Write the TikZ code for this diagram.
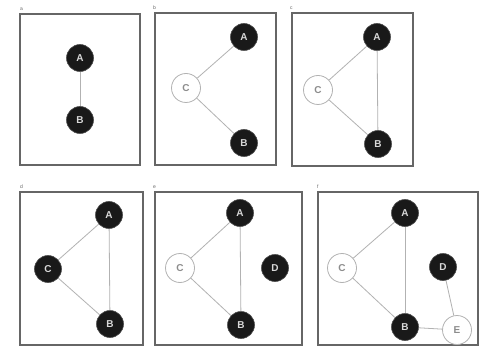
\documentclass[tikz,border=0pt]{standalone}
\usepackage{fontspec}
\setmainfont{Liberation Sans}
\begin{document}
\begin{tikzpicture}[x=1pt,y=-1pt,
  panel/.style={draw=black!60,line width=1.2pt},
  blk/.style={circle,fill=black!90,draw=black!70,line width=0.6pt,minimum size=27pt,inner sep=0pt,text=white!85!black,font=\fontsize{10}{10}\selectfont\bfseries},
  wht/.style={circle,fill=white,draw=black!30,line width=0.8pt,minimum size=29pt,inner sep=0pt,text=black!45,font=\fontsize{10}{10}\selectfont\bfseries},
  edge/.style={draw=black!30,line width=0.8pt},
  tag/.style={font=\fontsize{5}{5}\selectfont,text=black!60,inner sep=0pt,anchor=south west}]
\useasboundingbox (0,0) rectangle (481,347);
\fill[white] (0,0) rectangle (481,347);
% panel a
\draw[panel] (20,14) rectangle (140,165);
\node[tag] (la) at (20,11) {a};
\node[blk] (aA) at (80,58) {A};
\node[blk] (aB) at (80,120) {B};
\draw[edge] (aA) -- (aB);
% panel b
\draw[panel] (155,13) rectangle (276,165);
\node[tag] (lb) at (153,10) {b};
\node[blk] (bA) at (244,37) {A};
\node[wht] (bC) at (186,88) {C};
\node[blk] (bB) at (244,143) {B};
\draw[edge] (bC) -- (bA);
\draw[edge] (bC) -- (bB);
% panel c
\draw[panel] (292,13) rectangle (413,166);
\node[tag] (lc) at (290,10) {c};
\node[blk] (cA) at (377,37) {A};
\node[wht] (cC) at (318,90) {C};
\node[blk] (cB) at (378,144) {B};
\draw[edge] (cC) -- (cA);
\draw[edge] (cC) -- (cB);
\draw[edge] (cA) -- (cB);
% panel d
\draw[panel] (20,192) rectangle (143,345);
\node[tag] (ld) at (20,189) {d};
\node[blk] (dA) at (109,215) {A};
\node[blk] (dC) at (48,269) {C};
\node[blk] (dB) at (110,324) {B};
\draw[edge] (dC) -- (dA);
\draw[edge] (dC) -- (dB);
\draw[edge] (dA) -- (dB);
% panel e
\draw[panel] (155,192) rectangle (302,345);
\node[tag] (le) at (153,189) {e};
\node[blk] (eA) at (240,213) {A};
\node[wht] (eC) at (180,268) {C};
\node[blk] (eD) at (275,268) {D};
\node[blk] (eB) at (241,325) {B};
\draw[edge] (eC) -- (eA);
\draw[edge] (eC) -- (eB);
\draw[edge] (eA) -- (eB);
% panel f
\draw[panel] (318,192) rectangle (478,345);
\node[tag] (lf) at (317,189) {f};
\node[blk] (fA) at (405,213) {A};
\node[wht] (fC) at (342,268) {C};
\node[blk] (fD) at (443,267) {D};
\node[blk] (fB) at (405,327) {B};
\node[wht] (fE) at (457,330) {E};
\draw[edge] (fC) -- (fA);
\draw[edge] (fC) -- (fB);
\draw[edge] (fA) -- (fB);
\draw[edge] (fD) -- (fE);
\draw[edge] (fB) -- (fE);
\end{tikzpicture}
\end{document}
